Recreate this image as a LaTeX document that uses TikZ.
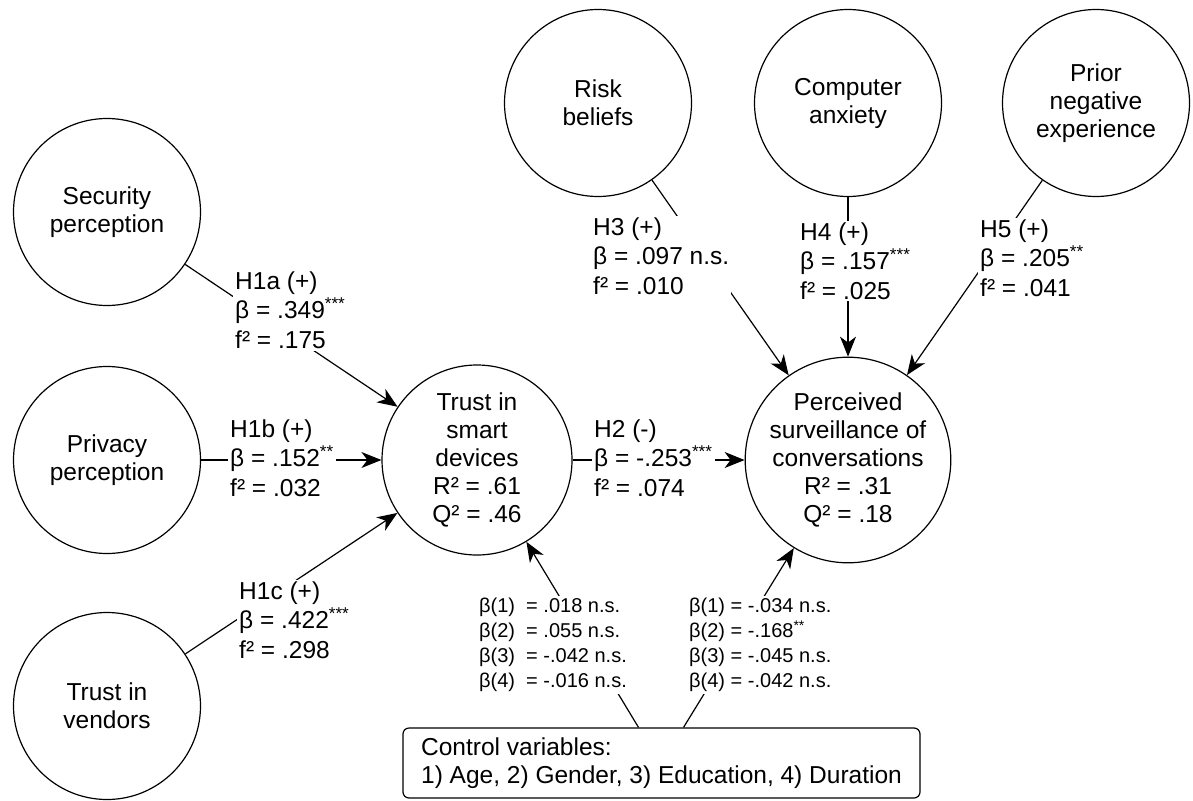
\documentclass[tikz,border=0pt]{standalone}
\usepackage{fontspec}
\setmainfont{Liberation Sans}
\usetikzlibrary{arrows.meta}

\begin{document}
\begin{tikzpicture}[x=1pt,y=-1pt,
        construct/.style={circle,draw,line width=1.2pt,minimum size=187pt,inner sep=0pt,align=center,font=\fontsize{24.5}{28}\selectfont},
        endo/.style={construct,minimum size=190pt},
        pathlabel/.style={anchor=west,align=left,fill=white,inner sep=2pt,font=\fontsize{24.5}{29.5}\selectfont},
        ctrllabel/.style={anchor=west,align=left,fill=white,inner sep=2pt,font=\fontsize{20}{25}\selectfont},
        arr/.style={line width=1.2pt,-{Stealth[length=20pt,width=16pt,inset=6pt]}}]
        \useasboundingbox (0,0) rectangle (1193,800);
        \node[construct](sec)at(107,212){Security\\perception};
        \node[construct](pri)at(107,460){Privacy\\perception};
        \node[construct](ven)at(107,706){Trust in\\vendors};
        \node[construct](risk)at(598,103){Risk\\beliefs};
        \node[construct](anx)at(848,103){Computer\\anxiety};
        \node[construct](prior)at(1096,103){Prior\\negative\\experience};
        \node[endo](trust)at(477,460){Trust in\\smart\\devices\\R² = .61\\Q² = .46};
        \node[endo](perc)at(848,460){Perceived\\surveillance of\\conversations\\R² = .31\\Q² = .18};
        \node[draw,rounded corners=6pt,line width=1.2pt,minimum height=70pt,minimum width=517pt,align=left,font=\fontsize{24.5}{28}\selectfont](ctrl)at(661.5,763){Control variables:\\1) Age, 2) Gender, 3) Education, 4) Duration};
        \draw[arr] (sec) -- (trust);
        \draw[arr] (pri) -- (trust);
        \draw[arr] (ven) -- (trust);
        \draw[arr] (trust) -- (perc);
        \draw[arr] (risk) -- (perc);
        \draw[arr] (anx) -- (perc);
        \draw[arr] (prior) -- (perc);
        \draw[arr] ([xshift=-23pt]ctrl.north) -- (trust);
        \draw[arr] ([xshift=22pt]ctrl.north) -- (perc);
        \node[pathlabel](h1a)at(233,310){H1a (+)\\β = .349\textsuperscript{***}\\f² = .175};
        \node[pathlabel](h1b)at(228,458){H1b (+)\\β = .152\textsuperscript{**}\\f² = .032};
        \node[pathlabel](h1c)at(237,620){H1c (+)\\β = .422\textsuperscript{***}\\f² = .298};
        \node[pathlabel](h2)at(592,458){H2 (-)\\β = -.253\textsuperscript{***}\\f² = .074};
        \node[pathlabel](h3)at(591,256){H3 (+)\\β = .097 n.s.\\f² = .010};
        \node[pathlabel](h4)at(798,261){H4 (+)\\β = .157\textsuperscript{***}\\f² = .025};
        \node[pathlabel](h5)at(978,258){H5 (+)\\β = .205\textsuperscript{**}\\f² = .041};
        \node[ctrllabel](ct)at(477,645){β(1) \ = .018 n.s.\\β(2) \ = .055 n.s.\\β(3) \ = -.042 n.s.\\β(4) \ = -.016 n.s.};
        \node[ctrllabel](cp)at(687,645){β(1) = -.034 n.s.\\β(2) = -.168\textsuperscript{**}\\β(3) = -.045 n.s.\\β(4) = -.042 n.s.};
    \end{tikzpicture}
\end{document}
